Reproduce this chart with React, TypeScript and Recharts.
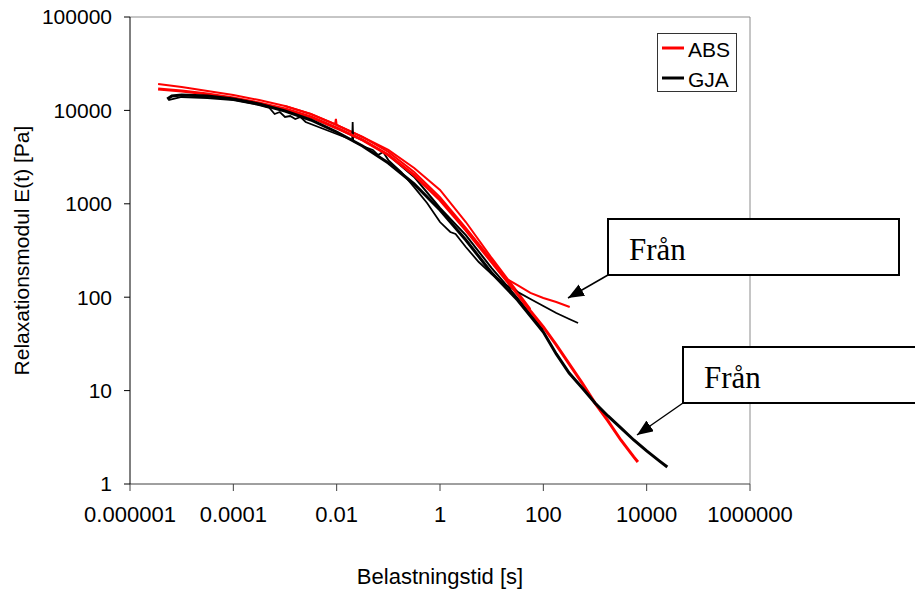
import { LineChart, Line, XAxis, YAxis, ReferenceLine, Legend } from 'recharts';

// Relaxation modulus E(t) vs loading time, log-log. Pairs are [t (s), E (Pa)].
const ABS_1: [number, number][] = [
  [3.5e-6, 16950], [1e-5, 16130], [3.16e-5, 14980], [1e-4, 13580], [3.16e-4, 12000],
  [0.001, 10350], [0.00316, 8500], [0.01, 6480], [0.0316, 4820], [0.1, 3330],
  [0.316, 2030], [1, 1100], [3.16, 524], [10, 238], [31.6, 108], [56.2, 71.2],
  [100, 48], [178, 30.8], [316, 19.3], [562, 12.1], [1000, 7.36], [1778, 4.73],
  [3162, 2.96], [5623, 1.95], [6760, 1.72],
];

const ABS_2: [number, number][] = [
  [3.5e-6, 19180], [1e-5, 17800], [3.16e-5, 16130], [1e-4, 14620], [3.16e-4, 12920],
  [0.001, 11150], [0.00316, 9150], [0.00933, 7100], [0.00966, 8090], [0.01, 6980],
  [0.0316, 5190], [0.1, 3590], [0.316, 2190], [1, 1180], [3.16, 551], [10, 250],
  [17.8, 161], [31.6, 135], [56.2, 111], [100, 98], [178, 88.8], [324, 78.5],
];

const ABS_3: [number, number][] = [
  [0.001, 11150], [0.00316, 9150], [0.01, 6980], [0.0316, 5190], [0.1, 3770],
  [0.316, 2420], [1, 1410], [3.16, 638], [10, 263], [31.6, 114], [56.2, 74.8],
];

const GJA_1: [number, number][] = [
  [5.25e-6, 13250], [6.46e-6, 14270], [1e-5, 14620], [3.16e-5, 14270], [1e-4, 13250],
  [3.16e-4, 11710], [0.001, 9850], [0.00316, 7890], [0.01, 5870], [0.0316, 4160],
  [0.1, 2730], [0.316, 1630], [1, 858], [3.16, 410], [10, 182], [31.6, 93.3],
  [100, 42.4], [178, 24.7], [316, 15.4], [562, 10.7], [1000, 7.36], [1778, 5.35],
  [3162, 3.98], [5623, 2.96], [10000, 2.26], [17780, 1.76], [25100, 1.52],
];

const GJA_2: [number, number][] = [
  [5.5e-6, 12920], [1e-5, 13920], [3.16e-5, 13580], [1e-4, 12920], [3.16e-4, 11420],
  [5.0e-4, 10610], [6.3e-4, 9150], [7.94e-4, 9610], [0.001, 8500], [0.00126, 8710],
  [0.00158, 8090], [0.002, 8500], [0.00251, 7510], [0.005, 6480], [0.01, 5590],
  [0.02, 4820], [0.0204, 7510], [0.0209, 4700], [0.0316, 4160], [0.0501, 3770],
  [0.0631, 3330], [0.0794, 3590], [0.1, 2940], [0.178, 2190], [0.316, 1510],
  [0.562, 1020], [1, 638], [1.58, 499], [2.0, 475], [3.16, 345], [5.62, 238],
  [10, 177], [17.8, 138], [31.6, 114], [56.2, 95.7], [100, 80.5], [178, 67.7],
  [316, 58.4], [470, 52.9],
];

const GJA_3: [number, number][] = [
  [0.001, 10350], [0.00316, 8500], [0.01, 6480], [0.0316, 4820], [0.1, 3330],
  [0.316, 1940], [1, 902], [3.16, 463], [10, 205], [31.6, 98], [100, 44.6],
];

const X_TICKS = [1e-6, 1e-4, 0.01, 1, 100, 10000, 1000000];
const X_TICK_LABELS = ['0.000001', '0.0001', '0.01', '1', '100', '10000', '1000000'];
const Y_TICKS = [1, 10, 100, 1000, 10000, 100000];
const Y_TICK_LABELS = ['1', '10', '100', '1000', '10000', '100000'];

const RED = '#ff0000';
const BLACK = '#000000';
const SANS = '"Liberation Sans", Arial, sans-serif';
const SERIF = '"Liberation Serif", "Times New Roman", serif';

const toPoints = (pairs: [number, number][]) => pairs.map(([t, e]) => ({ t, e }));

function tickLabel(ticks: number[], labels: string[]) {
  return (v: number) => {
    const i = ticks.findIndex((x) => Math.abs(Math.log10(x) - Math.log10(v)) < 1e-6);
    return i >= 0 ? labels[i] : String(v);
  };
}

function LegendBox({ payload }: any) {
  const items = (payload || []).filter((p: any) => p.type !== 'none' && p.value);
  return (
    <svg width={80} height={59} style={{ display: 'block' }}>
      <rect x={0.5} y={0.5} width={79} height={58} fill="#fff" stroke="#333" strokeWidth={1} />
      {items.map((p: any, i: number) => (
        <g key={p.value}>
          <line x1={5} x2={27} y1={15 + 30 * i} y2={15 + 30 * i} stroke={p.color} strokeWidth={3} />
          <text x={31} y={24 + 30 * i} fontSize={21} fontFamily={SANS} fill="#000">
            {p.value}
          </text>
        </g>
      ))}
    </svg>
  );
}

// Callout boxes with arrows (text annotations drawn over the chart)
function Callouts() {
  return (
    <svg
      width={915}
      height={590}
      style={{ position: 'absolute', left: 0, top: 0, pointerEvents: 'none' }}
    >
      <defs>
        <marker
          id="arrowHead"
          markerWidth={16}
          markerHeight={13}
          refX={16}
          refY={6.5}
          orient="auto"
          markerUnits="userSpaceOnUse"
        >
          <path d="M0,0 L16,6.5 L0,13 z" fill="#000" />
        </marker>
      </defs>
      <rect x={608} y={219} width={291} height={56} fill="#fff" stroke="#000" strokeWidth={2} />
      <text x={629} y={260} fontSize={31} fontFamily={SERIF} fill="#000">Från</text>
      <line x1={608} y1={275} x2={568} y2={298} stroke="#000" strokeWidth={1.5} markerEnd="url(#arrowHead)" />

      <rect x={683} y={347} width={260} height={56} fill="#fff" stroke="#000" strokeWidth={2} />
      <text x={704} y={388} fontSize={31} fontFamily={SERIF} fill="#000">Från</text>
      <line x1={683} y1={403} x2={637} y2={435} stroke="#000" strokeWidth={1.5} markerEnd="url(#arrowHead)" />
    </svg>
  );
}

export default function App() {
  const xTickStyle = { fill: '#000', fontSize: 22, fontFamily: SANS };
  const yTickStyle = { fill: '#000', fontSize: 21, fontFamily: SANS };
  return (
    <div style={{ position: 'absolute', left: 0, top: 0, width: 915, height: 590, background: '#fff' }}>
      <LineChart width={915} height={590} margin={{ top: 17, right: 165, bottom: 0, left: 0 }}>
        <XAxis
          dataKey="t"
          type="number"
          scale="log"
          domain={[1e-6, 1e6]}
          ticks={X_TICKS}
          interval={0}
          allowDataOverflow
          height={106}
          tickSize={7}
          tickMargin={15}
          tick={xTickStyle}
          tickFormatter={tickLabel(X_TICKS, X_TICK_LABELS)}
          axisLine={{ stroke: '#404040' }}
          tickLine={{ stroke: '#404040' }}
          label={{
            value: 'Belastningstid [s]',
            position: 'insideBottom',
            offset: 6,
            style: { fill: '#000', fontSize: 22, fontFamily: SANS },
          }}
        />
        <YAxis
          dataKey="e"
          type="number"
          scale="log"
          domain={[1, 100000]}
          ticks={Y_TICKS}
          interval={0}
          allowDataOverflow
          width={130}
          tickSize={6}
          tickMargin={12}
          tick={yTickStyle}
          tickFormatter={tickLabel(Y_TICKS, Y_TICK_LABELS)}
          axisLine={{ stroke: '#000' }}
          tickLine={{ stroke: '#000' }}
          label={{
            value: 'Relaxationsmodul E(t) [Pa]',
            angle: -90,
            position: 'insideLeft',
            offset: 22,
            style: { fill: '#000', fontSize: 21, fontFamily: SANS, textAnchor: 'middle' },
          }}
        />
        <ReferenceLine y={100000} stroke="#8c8c8c" strokeWidth={1} />
        <ReferenceLine x={1000000} stroke="#8c8c8c" strokeWidth={1} />

        <Line data={toPoints(ABS_3)} dataKey="e" type="linear" stroke={RED} strokeWidth={2} dot={false} isAnimationActive={false} legendType="none" />
        <Line data={toPoints(ABS_2)} dataKey="e" type="linear" stroke={RED} strokeWidth={2} dot={false} isAnimationActive={false} legendType="none" />
        <Line data={toPoints(GJA_3)} dataKey="e" type="linear" stroke={BLACK} strokeWidth={2} dot={false} isAnimationActive={false} legendType="none" />
        <Line data={toPoints(GJA_2)} dataKey="e" type="linear" stroke={BLACK} strokeWidth={1.8} dot={false} isAnimationActive={false} legendType="none" />
        <Line data={toPoints(ABS_1)} dataKey="e" name="ABS" type="linear" stroke={RED} strokeWidth={3} dot={false} isAnimationActive={false} />
        <Line data={toPoints(GJA_1)} dataKey="e" name="GJA" type="linear" stroke={BLACK} strokeWidth={3} dot={false} isAnimationActive={false} />

        <Legend
          layout="vertical"
          align="center"
          verticalAlign="middle"
          wrapperStyle={{ left: 657, top: 33, width: 80, height: 59 }}
          content={<LegendBox />}
        />
      </LineChart>
      <Callouts />
    </div>
  );
}
